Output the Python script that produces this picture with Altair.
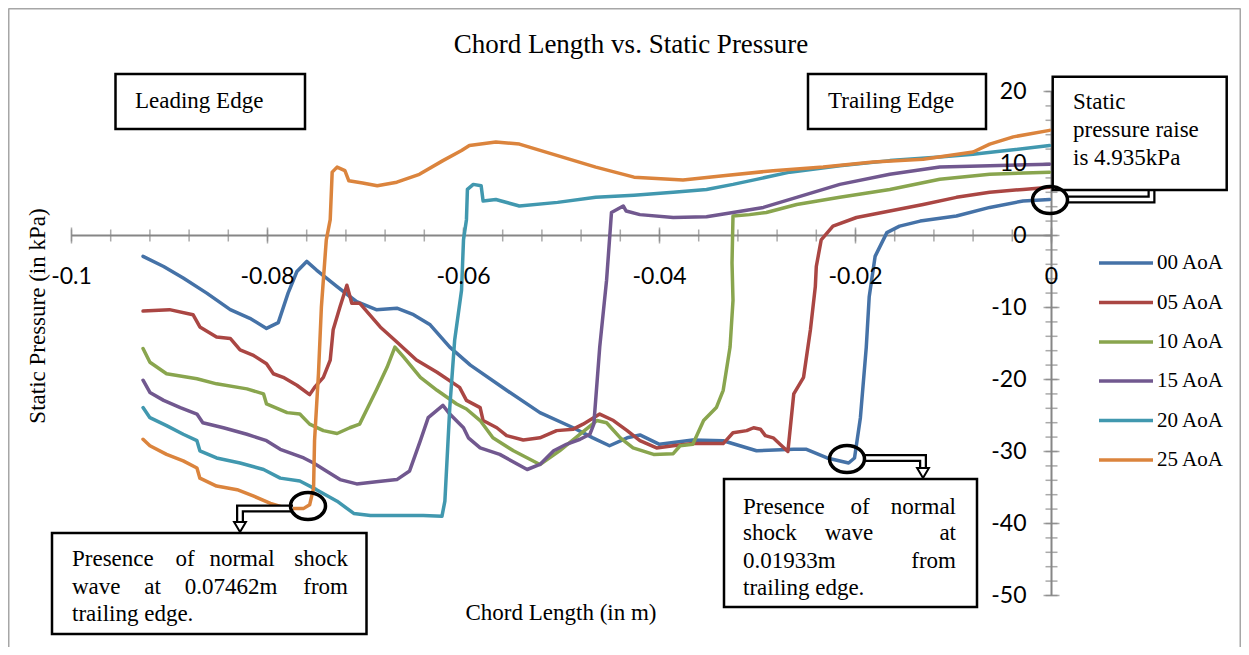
import altair as alt
import pandas as pd

# ---------------- data ----------------
names = ["00 AoA", "05 AoA", "10 AoA", "15 AoA", "20 AoA", "25 AoA"]
colors = ["#4572A7", "#AA4643", "#89A54E", "#71588F", "#4198AF", "#DB843D"]

aoa00_x = [-0.0927, -0.0906, -0.0886, -0.0862, -0.0838, -0.0818, -0.0801, -0.0789, -0.0779, -0.0770,
           -0.0760, -0.0750, -0.0729, -0.0709, -0.0689, -0.0668, -0.0651, -0.0634, -0.0614, -0.0593,
           -0.0556, -0.0522, -0.0488, -0.0468, -0.0451, -0.0433, -0.0420, -0.0400, -0.0366, -0.0335,
           -0.0301, -0.0263, -0.0250, -0.0229, -0.0207, -0.0201, -0.0195, -0.0189, -0.0186, -0.0180,
           -0.0168, -0.0155, -0.0134, -0.0097, -0.0063, -0.0029, -0.0002]
aoa00_y = [-2.9, -4.3, -5.9, -8.0, -10.3, -11.5, -12.9, -12.1, -8.0, -5.0,
           -3.6, -4.8, -7.1, -9.2, -10.3, -10.1, -11.0, -12.4, -15.5, -18.0,
           -21.5, -24.6, -26.7, -28.1, -29.2, -28.1, -27.7, -29.0, -28.4, -28.5,
           -29.9, -29.7, -29.7, -30.9, -31.6, -30.9, -25.3, -15.5, -8.5, -2.9,
           0.4, 1.3, 2.0, 2.7, 3.9, 4.8, 5.0]

aoa05_x = [-0.0927, -0.0900, -0.0876, -0.0869, -0.0852, -0.0838, -0.0828, -0.0815, -0.0801, -0.0794,
           -0.0784, -0.0770, -0.0757, -0.0752, -0.0743, -0.0736, -0.0733, -0.0726, -0.0719, -0.0714,
           -0.0706, -0.0685, -0.0668, -0.0648, -0.0627, -0.0604, -0.0597, -0.0583, -0.0580, -0.0566,
           -0.0556, -0.0539, -0.0522, -0.0505, -0.0488, -0.0478, -0.0461, -0.0447, -0.0433, -0.0420,
           -0.0403, -0.0386, -0.0366, -0.0335, -0.0325, -0.0311, -0.0304, -0.0297, -0.0292, -0.0284,
           -0.0277, -0.0269, -0.0263, -0.0253, -0.0246, -0.0241, -0.0240, -0.0235, -0.0223, -0.0199,
           -0.0165, -0.0131, -0.0097, -0.0063, -0.0029, -0.0002]
aoa05_y = [-10.5, -10.3, -11.0, -12.7, -14.1, -14.3, -15.9, -16.6, -17.8, -19.2,
           -19.7, -20.8, -22.1, -21.1, -19.7, -17.3, -13.1, -9.9, -6.9, -9.4,
           -9.4, -12.7, -14.8, -17.3, -19.0, -21.1, -22.9, -23.9, -25.7, -26.7,
           -27.8, -28.4, -28.1, -27.1, -26.9, -26.2, -24.8, -25.7, -27.1, -28.5,
           -29.5, -29.2, -28.9, -28.9, -27.4, -27.1, -26.7, -26.9, -27.8, -28.1,
           -29.0, -30.0, -22.0, -19.7, -13.1, -7.1, -4.3, -0.6, 1.3, 2.5,
           3.4, 4.3, 5.3, 6.0, 6.4, 6.7]

aoa10_x = [-0.0927, -0.0920, -0.0903, -0.0872, -0.0852, -0.0821, -0.0804, -0.0801, -0.0780, -0.0767,
           -0.0757, -0.0743, -0.0729, -0.0716, -0.0706, -0.0689, -0.0678, -0.0670, -0.0661, -0.0644,
           -0.0627, -0.0607, -0.0597, -0.0583, -0.0570, -0.0549, -0.0522, -0.0502, -0.0481, -0.0464,
           -0.0454, -0.0440, -0.0427, -0.0406, -0.0386, -0.0379, -0.0366, -0.0355, -0.0342, -0.0335,
           -0.0328, -0.0325, -0.0326, -0.0325, -0.0308, -0.0291, -0.0260, -0.0216, -0.0165, -0.0114,
           -0.0063, -0.0002]
aoa10_y = [-15.7, -17.6, -19.2, -19.9, -20.6, -21.3, -22.0, -23.4, -24.6, -24.8,
           -26.2, -27.1, -27.5, -26.7, -26.2, -21.5, -18.3, -15.5, -16.9, -19.7,
           -21.5, -23.4, -24.1, -25.7, -28.1, -29.9, -31.8, -29.9, -27.6, -25.7,
           -26.0, -28.1, -29.5, -30.4, -30.3, -29.2, -29.0, -25.7, -23.9, -21.5,
           -15.5, -9.0, -3.8, 2.7, 2.9, 3.2, 4.3, 5.3, 6.4, 7.8,
           8.5, 8.8]

aoa15_x = [-0.0927, -0.0920, -0.0906, -0.0889, -0.0872, -0.0866, -0.0845, -0.0821, -0.0801, -0.0787,
           -0.0763, -0.0753, -0.0740, -0.0726, -0.0709, -0.0689, -0.0668, -0.0655, -0.0644, -0.0636,
           -0.0621, -0.0614, -0.0600, -0.0595, -0.0583, -0.0563, -0.0535, -0.0522, -0.0508, -0.0495,
           -0.0481, -0.0471, -0.0467, -0.0461, -0.0454, -0.0449, -0.0437, -0.0434, -0.0420, -0.0386,
           -0.0352, -0.0325, -0.0294, -0.0260, -0.0216, -0.0165, -0.0114, -0.0063, -0.0002]
aoa15_y = [-20.1, -21.8, -22.9, -23.9, -24.8, -26.0, -26.7, -27.6, -28.5, -29.7,
           -30.9, -31.6, -32.7, -33.9, -34.5, -34.2, -33.9, -32.7, -28.5, -25.3,
           -23.6, -24.8, -26.7, -28.1, -29.5, -30.4, -32.5, -31.8, -29.9, -29.0,
           -28.3, -27.6, -26.2, -15.5, -6.2, 3.2, 4.1, 3.4, 2.9, 2.5,
           2.6, 3.2, 3.9, 5.3, 7.1, 8.5, 9.5, 9.7, 9.9]

aoa20_x = [-0.0927, -0.0920, -0.0903, -0.0886, -0.0872, -0.0869, -0.0852, -0.0828, -0.0804, -0.0787,
           -0.0767, -0.0750, -0.0729, -0.0712, -0.0695, -0.0668, -0.0641, -0.0622, -0.0619, -0.0614,
           -0.0609, -0.0602, -0.0600, -0.0597, -0.0596, -0.0590, -0.0582, -0.0580, -0.0567, -0.0543,
           -0.0504, -0.0465, -0.0426, -0.0386, -0.0352, -0.0325, -0.0301, -0.0267, -0.0216, -0.0165,
           -0.0114, -0.0080, -0.0046, -0.0002]
aoa20_y = [-23.9, -25.3, -26.4, -27.6, -28.5, -29.9, -30.9, -31.6, -32.5, -33.7,
           -34.1, -35.3, -36.9, -38.6, -38.9, -38.9, -38.9, -39.0, -36.9, -23.9,
           -14.5, -7.6, -0.6, 2.2, 6.4, 7.1, 6.9, 4.8, 5.0, 4.1,
           4.6, 5.3, 5.6, 6.0, 6.4, 7.1, 7.8, 8.8, 9.7, 10.4,
           10.9, 11.3, 11.8, 12.5]

aoa25_x = [-0.0927, -0.0920, -0.0903, -0.0886, -0.0872, -0.0869, -0.0852, -0.0831, -0.0814, -0.0797,
           -0.0780, -0.0763, -0.0757, -0.0753, -0.0752, -0.0748, -0.0745, -0.0740, -0.0736, -0.0734,
           -0.0729, -0.0721, -0.0717, -0.0703, -0.0688, -0.0668, -0.0645, -0.0621, -0.0602, -0.0594,
           -0.0567, -0.0543, -0.0504, -0.0465, -0.0426, -0.0376, -0.0335, -0.0284, -0.0233, -0.0182,
           -0.0131, -0.0080, -0.0063, -0.0039, -0.0002]
aoa25_y = [-28.3, -29.2, -30.4, -31.3, -32.3, -33.7, -34.8, -35.3, -36.2, -37.2,
           -37.9, -37.9, -37.4, -35.1, -28.5, -19.2, -9.9, -0.6, 2.2, 8.8,
           9.5, 9.0, 7.6, 7.3, 6.9, 7.4, 8.5, 10.4, 11.8, 12.5,
           13.0, 12.7, 11.1, 9.5, 8.1, 7.7, 8.3, 9.0, 9.5, 10.2,
           10.6, 11.6, 12.7, 13.7, 14.6]

x_major = [-0.1, -0.08, -0.06, -0.04, -0.02, 0.0]
x_labels = ["-0.1", "-0.08", "-0.06", "-0.04", "-0.02", "0"]
x_minor = [round(-0.1 + 0.004 * i, 3) for i in range(26)]
y_major = [20, 10, 0, -10, -20, -30, -40, -50]
y_labels = ["20", "10", "0", "-10", "-20", "-30", "-40", "-50"]
y_minor = [-50 + 2 * i for i in range(36)]

# ---------------- layout helpers ----------------
X_MIN, X_MAX = -0.1, 0.0
Y_MIN, Y_MAX = -50, 20
PW, PH = 980, 504
PX_X0, PX_Y0 = 71.5, 91.5          # page position of (X_MIN, Y_MAX)
SERIF = "Liberation Serif"
SANS = "Lato"


def dx(px):
    return X_MIN + (px - PX_X0) / PW * (X_MAX - X_MIN)


def dy(py):
    return Y_MAX - (py - PX_Y0) / PH * (Y_MAX - Y_MIN)


XS = alt.Scale(domain=[X_MIN, X_MAX], nice=False, zero=False)
YS = alt.Scale(domain=[Y_MIN, Y_MAX], nice=False, zero=False)


def ex(f="x"):
    return alt.X(f"{f}:Q", scale=XS, axis=None)


def ey(f="y"):
    return alt.Y(f"{f}:Q", scale=YS, axis=None)


# ---------------- series ----------------
series = [(aoa00_x, aoa00_y), (aoa05_x, aoa05_y), (aoa10_x, aoa10_y),
          (aoa15_x, aoa15_y), (aoa20_x, aoa20_y), (aoa25_x, aoa25_y)]
frames = []
for name, (xs, ys) in zip(names, series):
    assert len(xs) == len(ys), name
    frames.append(pd.DataFrame({"x": xs, "y": ys, "series": name, "idx": range(len(xs))}))
df = pd.concat(frames, ignore_index=True)

lines = alt.Chart(df).mark_line(strokeWidth=3.5, strokeJoin="round", strokeCap="round").encode(
    x=ex(), y=ey(),
    color=alt.Color("series:N", scale=alt.Scale(domain=names, range=colors), legend=None),
    order="idx:Q",
)

# ---------------- outer frame ----------------
frame_df = pd.DataFrame({
    "x": [dx(8.5), dx(8.5), dx(1240.5)],
    "x2": [dx(8.5), dx(1240.5), dx(1240.5)],
    "y": [dy(8.5), dy(8.5), dy(8.5)],
    "y2": [dy(660), dy(8.5), dy(660)],
})
frame = alt.Chart(frame_df).mark_rule(color="#A6A6A6", strokeWidth=2).encode(
    x=ex(), x2="x2:Q", y=ey(), y2="y2:Q")

# ---------------- axes (crossing at the origin) ----------------
AX = "#868686"
axis_df = pd.DataFrame({"x": [X_MIN, X_MAX], "x2": [X_MAX, X_MAX], "y": [0, Y_MIN], "y2": [0, Y_MAX]})
axis_lines = alt.Chart(axis_df).mark_rule(color=AX, strokeWidth=2).encode(
    x=ex(), x2="x2:Q", y=ey(), y2="y2:Q")

xminor_t = alt.Chart(pd.DataFrame({"x": x_minor, "y": 0})).mark_tick(
    orient="vertical", size=12, thickness=1.5, color=AX).encode(x=ex(), y=ey())
xmajor_t = alt.Chart(pd.DataFrame({"x": x_major, "y": 0})).mark_tick(
    orient="vertical", size=16, thickness=1.5, color=AX).encode(x=ex(), y=ey())
yminor_t = alt.Chart(pd.DataFrame({"x": 0, "y": y_minor})).mark_tick(
    orient="horizontal", size=12, thickness=1.5, color=AX).encode(x=ex(), y=ey())
ymajor_t = alt.Chart(pd.DataFrame({"x": 0, "y": y_major})).mark_tick(
    orient="horizontal", size=16, thickness=1.5, color=AX).encode(x=ex(), y=ey())

xlab = alt.Chart(pd.DataFrame({"x": x_major, "y": 0, "t": x_labels})).mark_text(
    font=SANS, fontSize=23, dy=41, baseline="middle", align="center", color="#000000").encode(
    x=ex(), y=ey(), text="t:N")
ylab = alt.Chart(pd.DataFrame({"x": 0, "y": y_major, "t": y_labels})).mark_text(
    font=SANS, fontSize=23, dx=-25, baseline="middle", align="right", color="#000000").encode(
    x=ex(), y=ey(), text="t:N")

# ---------------- titles ----------------
title = alt.Chart(pd.DataFrame({"x": [dx(631)], "y": [dy(45)], "t": ["Chord Length vs. Static Pressure"]})).mark_text(
    font=SERIF, fontSize=27, align="center", baseline="middle", color="black").encode(x=ex(), y=ey(), text="t:N")
xtitle = alt.Chart(pd.DataFrame({"x": [dx(561)], "y": [dy(613)], "t": ["Chord Length (in m)"]})).mark_text(
    font=SERIF, fontSize=23, align="center", baseline="middle", color="black").encode(x=ex(), y=ey(), text="t:N")
ytitle = alt.Chart(pd.DataFrame({"x": [dx(38)], "y": [dy(316)], "t": ["Static Pressure (in kPa)"]})).mark_text(
    font=SERIF, fontSize=23, align="center", baseline="middle", angle=270, color="black").encode(
    x=ex(), y=ey(), text="t:N")

# ---------------- annotation boxes ----------------
boxes_px = [  # left, top, right, bottom (page px)
    (115.5, 74, 305, 129),
    (808, 74, 986, 129),
    (1052.7, 76.7, 1226.7, 190),
    (52, 533, 366.5, 634),
    (724, 479, 977, 607),
]
box_df = pd.DataFrame({
    "x": [dx(b[0]) for b in boxes_px], "y": [dy(b[1]) for b in boxes_px],
    "x2": [dx(b[2]) for b in boxes_px], "y2": [dy(b[3]) for b in boxes_px],
})
boxes = alt.Chart(box_df).mark_rect(fill="white", stroke="black", strokeWidth=2.5).encode(
    x=ex(), y=ey(), x2="x2:Q", y2="y2:Q")

# words: (text, page x, page y, align) -- justified lines are set word by word
words = [
    ("Leading Edge", 135, 101, "left"),
    ("Trailing Edge", 828, 101, "left"),
    ("Static", 1073, 102, "left"),
    ("pressure raise", 1073, 130, "left"),
    ("is 4.935kPa", 1073, 158, "left"),
    ("Presence", 72, 559, "left"), ("of", 185, 559, "center"), ("normal", 242, 559, "center"),
    ("shock", 348, 559, "right"),
    ("wave", 72, 587, "left"), ("at", 152.5, 587, "center"), ("0.07462m", 231, 587, "center"),
    ("from", 348, 587, "right"),
    ("trailing edge.", 72, 614, "left"),
    ("Presence", 743, 507, "left"), ("of", 860, 507, "center"), ("normal", 956, 507, "right"),
    ("shock", 743, 533, "left"), ("wave", 849, 533, "center"), ("at", 956, 533, "right"),
    ("0.01933m", 743, 561, "left"), ("from", 956, 561, "right"),
    ("trailing edge.", 743, 588, "left"),
]
word_df = pd.DataFrame({
    "t": [w[0] for w in words], "x": [dx(w[1]) for w in words],
    "y": [dy(w[2]) for w in words], "a": [w[3] for w in words],
})
word_layers = []
for a in ["left", "center", "right"]:
    word_layers.append(
        alt.Chart(word_df[word_df["a"] == a]).mark_text(
            font=SERIF, fontSize=23, align=a, baseline="middle", color="black").encode(
            x=ex(), y=ey(), text="t:N"))

# ---------------- connectors (hollow elbow arrows) ----------------
paths = [
    [(293, 508.5), (240, 508.5), (240, 526)],
    [(864, 458), (923, 458), (923, 472)],
    [(1067, 199.5), (1151.5, 199.5), (1151.5, 190)],
]
conn_rows = []
for pid, pts in enumerate(paths):
    for k, (px, py) in enumerate(pts):
        conn_rows.append({"pid": pid, "k": k, "x": dx(px), "y": dy(py)})
conn_df = pd.DataFrame(conn_rows)
conn_outer = alt.Chart(conn_df).mark_line(color="black", strokeWidth=8, strokeJoin="miter").encode(
    x=ex(), y=ey(), detail="pid:N", order="k:Q")
conn_inner = alt.Chart(conn_df).mark_line(color="white", strokeWidth=3.5, strokeJoin="miter").encode(
    x=ex(), y=ey(), detail="pid:N", order="k:Q")
heads = alt.Chart(pd.DataFrame({"x": [dx(240), dx(923)], "y": [dy(527), dy(473)]})).mark_point(
    shape="triangle-down", size=140, filled=True, fill="white", stroke="black", strokeWidth=2,
    opacity=1).encode(x=ex(), y=ey())

ellipse = "M -1 0 A 1 0.77 0 1 0 1 0 A 1 0.77 0 1 0 -1 0 Z"
circ_df = pd.DataFrame({"x": [dx(308), dx(847), dx(1050)], "y": [dy(506), dy(459), dy(200)]})
circles = alt.Chart(circ_df).mark_point(
    shape=ellipse, size=1225, filled=False, stroke="black", strokeWidth=3.5, opacity=1).encode(
    x=ex(), y=ey())

# ---------------- legend (drawn) ----------------
leg_rows_py = [263, 302.5, 342, 381, 420.5, 460]
leg_df = pd.DataFrame({
    "series": names,
    "x": dx(1099), "x2": dx(1153), "xt": dx(1157),
    "y": [dy(p) for p in leg_rows_py],
})
leg_lines = alt.Chart(leg_df).mark_rule(strokeWidth=3.5).encode(
    x=ex(), x2="x2:Q", y=ey(),
    color=alt.Color("series:N", scale=alt.Scale(domain=names, range=colors), legend=None))
leg_text = alt.Chart(leg_df).mark_text(
    font=SERIF, fontSize=21, align="left", baseline="middle", color="black").encode(
    x=ex("xt"), y=ey(), text="series:N")

chart = alt.layer(
    frame, axis_lines, xminor_t, xmajor_t, yminor_t, ymajor_t,
    lines, xlab, ylab, title, xtitle, ytitle,
    conn_outer, conn_inner, heads, boxes, *word_layers, circles,
    leg_lines, leg_text,
).properties(
    width=PW, height=PH,
    autosize=alt.AutoSizeParams(type="none"),
    padding={"left": PX_X0 - 8, "top": PX_Y0 - 8, "right": 1233 - (PX_X0 - 8) - PW,
             "bottom": 639 - (PX_Y0 - 8) - PH},
    background="white",
).configure_view(stroke=None)

chart.save("out.html", embed_options={"renderer": "svg", "actions": False})
